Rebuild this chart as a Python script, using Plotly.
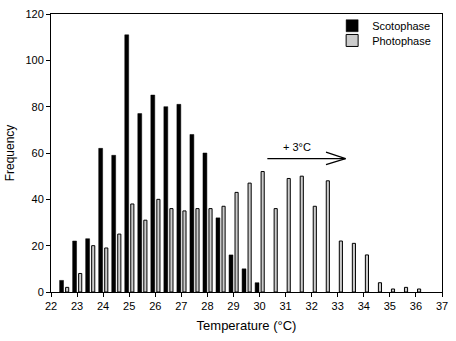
import plotly.graph_objects as go

# Temperature bins (°C)
temps = [22.5, 23.0, 23.5, 24.0, 24.5, 25.0, 25.5, 26.0, 26.5, 27.0, 27.5, 28.0,
         28.5, 29.0, 29.5, 30.0, 30.5, 31.0, 31.5, 32.0, 32.5, 33.0, 33.5, 34.0,
         34.5, 35.0, 35.5, 36.0]

scoto_temps = [22.5, 23.0, 23.5, 24.0, 24.5, 25.0, 25.5, 26.0, 26.5, 27.0, 27.5,
               28.0, 28.5, 29.0, 29.5, 30.0]
scotophase = [5, 22, 23, 62, 59, 111, 77, 85, 80, 81, 68, 60, 32, 16, 10, 4]

photophase = [2, 8, 20, 19, 25, 38, 31, 40, 36, 35, 36, 36, 37, 43, 47, 52,
              36, 49, 50, 37, 48, 22, 21, 16, 4, 1.3, 2, 1.3]

x_ticks = list(range(22, 38))
y_ticks = [0, 20, 40, 60, 80, 100, 120]

FONT = "Liberation Sans, Arial, sans-serif"

fig = go.Figure()
fig.add_trace(go.Bar(
    x=scoto_temps, y=scotophase, name="Scotophase", legend="legend",
    width=0.15, offset=-0.17,
    marker=dict(color="black", line=dict(color="black", width=0.5)),
))
fig.add_trace(go.Bar(
    x=temps, y=photophase, name="Photophase", legend="legend2",
    width=0.12, offset=0.06,
    marker=dict(color="#cccccc", line=dict(color="black", width=1)),
))

# "+3 °C" arrow (open head)
ay = 57.6
x0, x1 = 30.3, 33.3
fig.add_shape(type="line", x0=x0, x1=x1, y0=ay, y1=ay, xref="x", yref="y",
              line=dict(color="black", width=1.2))
fig.add_shape(type="line", x0=32.55, x1=x1, y0=ay + 2.8, y1=ay, xref="x", yref="y",
              line=dict(color="black", width=1.2))
fig.add_shape(type="line", x0=32.55, x1=x1, y0=ay - 2.6, y1=ay, xref="x", yref="y",
              line=dict(color="black", width=1.2))
fig.add_annotation(x=31.45, y=62.8, text="+ 3°C", showarrow=False,
                   xref="x", yref="y", font=dict(family=FONT, size=11, color="black"))

leg_common = dict(xanchor="left", yanchor="top", bgcolor="rgba(0,0,0,0)",
                  font=dict(family=FONT, size=11), itemwidth=30)

fig.update_layout(
    width=456, height=341,
    margin=dict(l=51, r=10, t=8, b=49),
    paper_bgcolor="white", plot_bgcolor="white",
    barmode="overlay",
    font=dict(family=FONT, size=11, color="black"),
    showlegend=True,
    legend=dict(x=0.719, y=1.01, **leg_common),
    legend2=dict(x=0.719, y=0.957, **leg_common),
    xaxis=dict(
        range=[22, 37], tickvals=x_ticks, ticktext=[str(t) for t in x_ticks],
        showline=True, linecolor="black", linewidth=1, mirror=True,
        ticks="outside", ticklen=4, tickcolor="black", showgrid=False, zeroline=False,
        title=dict(text="Temperature (°C)", font=dict(family=FONT, size=13), standoff=9),
        tickfont=dict(family=FONT, size=11),
    ),
    yaxis=dict(
        range=[0, 120], tickvals=y_ticks,
        showline=True, linecolor="black", linewidth=1, mirror=True,
        ticks="outside", ticklen=4, tickcolor="black", showgrid=False, zeroline=False,
        title=dict(text="Frequency", font=dict(family=FONT, size=12), standoff=8),
        tickfont=dict(family=FONT, size=11),
    ),
)

fig.write_html("out.html", config={"displayModeBar": False},
               post_script="document.body.style.margin='0';")
